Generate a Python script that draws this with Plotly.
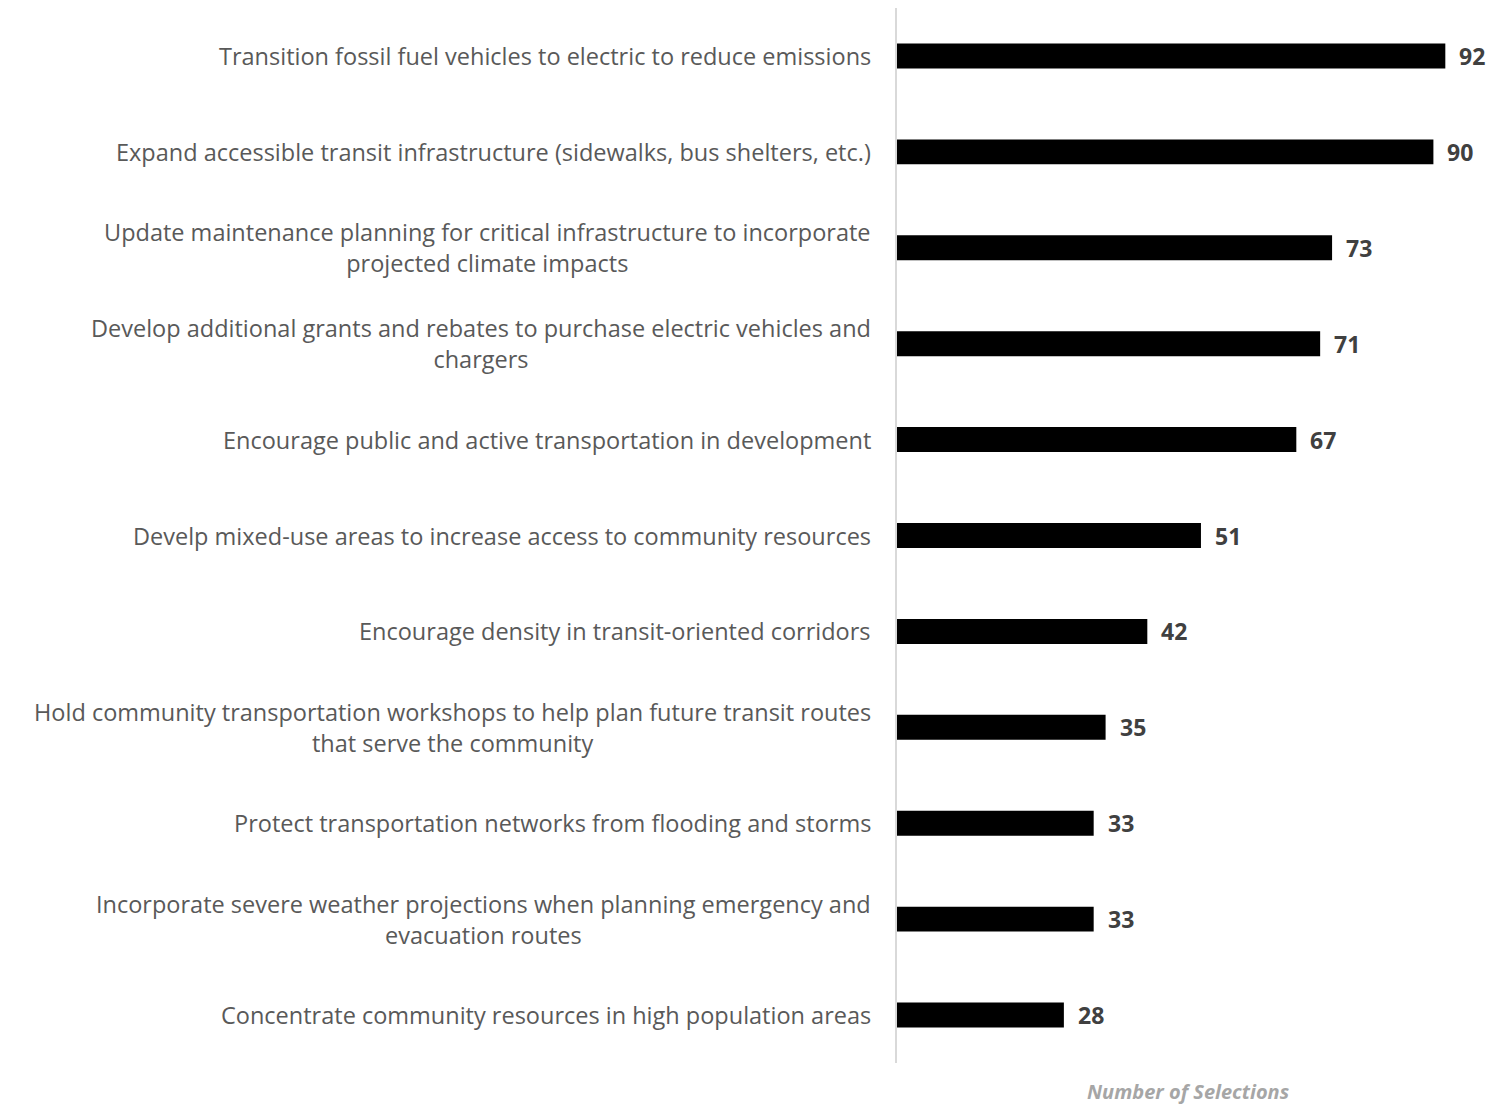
import plotly.graph_objects as go

# Transportation strategies, ranked by number of selections
strategies = [
    "Transition fossil fuel vehicles to electric to reduce emissions",
    "Expand accessible transit infrastructure (sidewalks, bus shelters, etc.)",
    "Update maintenance planning for critical infrastructure to incorporate<br>projected climate impacts",
    "Develop additional grants and rebates to purchase electric vehicles and<br>chargers",
    "Encourage public and active transportation in development",
    "Develp mixed-use areas to increase access to community resources",
    "Encourage density in transit-oriented corridors",
    "Hold community transportation workshops to help plan future transit routes<br>that serve the community",
    "Protect transportation networks from flooding and storms",
    "Incorporate severe weather projections when planning emergency and<br>evacuation routes",
    "Concentrate community resources in high population areas",
]
selections = [92, 90, 73, 71, 67, 51, 42, 35, 33, 33, 28]
axis_title = "Number of Selections"

LABEL_FONT = "'Open Sans', sans-serif"

W, H = 1505, 1104
ML, MR, MT, MB = 897, 12, 8, 41
pw, ph = W - ML - MR, H - MT - MB

fig = go.Figure(
    go.Bar(
        x=selections,
        y=strategies,
        orientation="h",
        width=0.26,
        marker=dict(color="#000000", line=dict(width=0)),
        hoverinfo="skip",
    )
)

annotations = []
for name, val in zip(strategies, selections):
    # category label, right-aligned to the axis, lines centered in the block
    annotations.append(dict(
        x=0, y=name, xref="x", yref="y",
        text=name, showarrow=False,
        xanchor="right", yanchor="middle", align="center", xshift=-24,
        font=dict(family=LABEL_FONT, size=23.5, color="#595959"),
    ))
    # value label at the end of each bar
    annotations.append(dict(
        x=val, y=name, xref="x", yref="y",
        text=f"<b>{val}</b>", showarrow=False,
        xanchor="left", yanchor="middle", xshift=12,
        font=dict(family=LABEL_FONT, size=23, color="#404040"),
    ))

# axis title below the plot, placed in paper coordinates
annotations.append(dict(
    x=(1188 - ML) / pw, y=(H - MB - 1091) / ph, xref="paper", yref="paper",
    text=f"<b><i>{axis_title}</i></b>", showarrow=False,
    xanchor="center", yanchor="middle",
    font=dict(family=LABEL_FONT, size=20, color="#a6a6a6"),
))

fig.update_layout(
    width=W, height=H,
    margin=dict(l=ML, r=MR, t=MT, b=MB, pad=0),
    plot_bgcolor="white", paper_bgcolor="white",
    showlegend=False,
    xaxis=dict(range=[0, 100], showgrid=False, zeroline=False,
               showticklabels=False, ticks="", showline=False),
    yaxis=dict(type="category", categoryorder="array", categoryarray=strategies,
               range=[len(strategies) - 0.5, -0.5],
               showgrid=False, zeroline=False, showticklabels=False, ticks="",
               showline=True, linecolor="#d9d9d9", linewidth=2),
    annotations=annotations,
)

fig.write_html("out.html")
